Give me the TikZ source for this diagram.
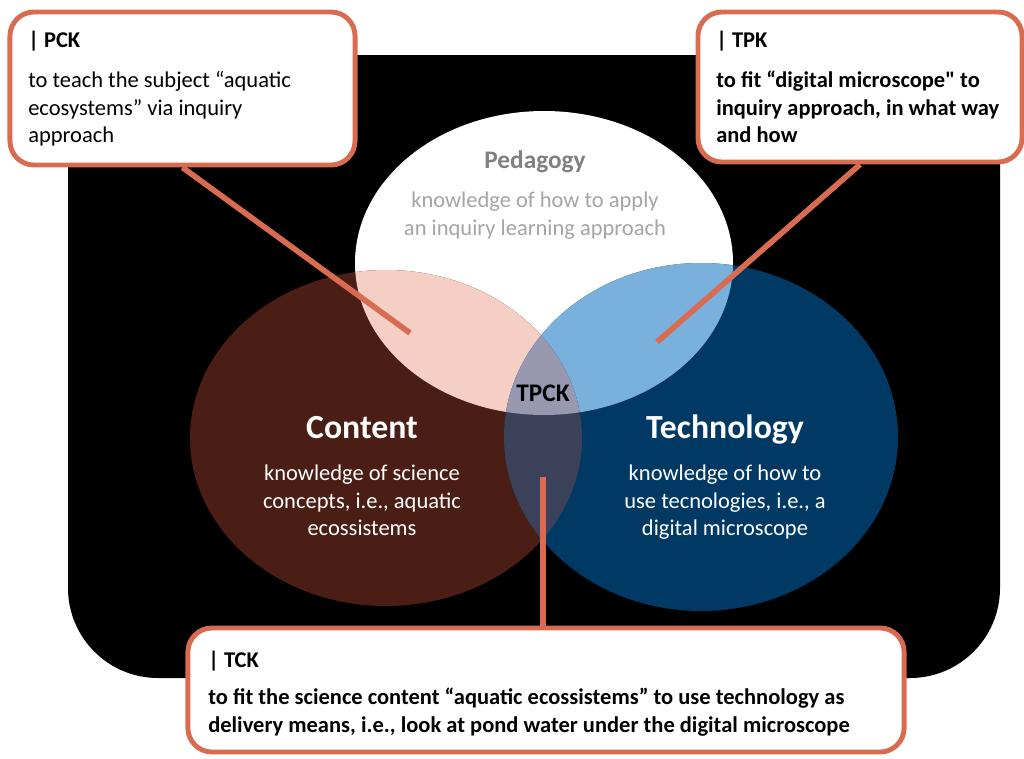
\documentclass[tikz,border=0pt]{standalone}
\usepackage{fontspec}
\setmainfont{Carlito}[Ligatures=TeXOff]

\definecolor{calloutorange}{RGB}{217,108,80}
\definecolor{contentbrown}{RGB}{74,30,20}
\definecolor{techblue}{RGB}{0,58,100}
\definecolor{pcpink}{RGB}{245,206,196}
\definecolor{ptblue}{RGB}{122,176,220}
\definecolor{ctslate}{RGB}{60,65,90}
\definecolor{tpckgray}{RGB}{152,152,176}
\definecolor{pedgray}{RGB}{128,128,128}
\definecolor{pedlight}{RGB}{165,165,165}

\begin{document}
\begin{tikzpicture}[x=0.025cm, y=-0.025cm,
    every node/.style={font=\fontsize{16}{19.5}\selectfont, inner sep=0pt},
    callbox/.style={draw=calloutorange, line width=3.5pt, fill=white, rounded corners=0.6cm},
    link/.style={draw=calloutorange, line width=4pt},
    boxtext/.style={anchor=north west, align=left},
    circtext/.style={anchor=north, align=center, text=white},
    areatitle/.style={anchor=base, font=\fontsize{24}{28}\selectfont\bfseries, text=white}]
    \useasboundingbox (0,0) rectangle (1024,758);

    % black backdrop
    \fill[black, rounded corners=2.25cm] (68,55) rectangle (1000,678);
    \fill[black] (68,55) rectangle (1000,300);

    % the three knowledge areas
    \fill[white] (544,263) ellipse [x radius=189, y radius=152];
    \fill[contentbrown] (386,438) ellipse [x radius=196, y radius=168];
    \fill[techblue] (701,437) ellipse [x radius=197, y radius=174];

    % overlaps
    \begin{scope}
      \clip (544,263) ellipse [x radius=189, y radius=152];
      \fill[pcpink] (386,438) ellipse [x radius=196, y radius=168];
      \fill[ptblue] (701,437) ellipse [x radius=197, y radius=174];
    \end{scope}
    \begin{scope}
      \clip (386,438) ellipse [x radius=196, y radius=168];
      \fill[ctslate] (701,437) ellipse [x radius=197, y radius=174];
      \clip (544,263) ellipse [x radius=189, y radius=152];
      \fill[tpckgray] (701,437) ellipse [x radius=197, y radius=174];
    \end{scope}

    % area labels
    \node[anchor=base, text=pedgray, font=\fontsize{18}{22}\selectfont\bfseries] (ped-title) at (535,168) {Pedagogy};
    \node[anchor=north, align=center, text=pedlight] (ped-text) at (535,192) {knowledge of how to apply\\an inquiry learning approach};
    \node[areatitle] (con-title) at (362,438) {Content};
    \node[circtext] (con-text) at (362,465) {knowledge of science\\concepts, i.e., aquatic\\ecossistems};
    \node[areatitle] (tec-title) at (725,438) {Technology};
    \node[circtext] (tec-text) at (725,465) {knowledge of how to\\use tecnologies, i.e., a\\digital microscope};
    \node[anchor=base, font=\fontsize{18}{22}\selectfont\bfseries] (tpck) at (543,401) {TPCK};

    % callout tips
    \coordinate (pck-tip) at (410,333);
    \coordinate (tpk-tip) at (657,342);
    \coordinate (tck-tip) at (543,477);

    % callout boxes
    \node[callbox, minimum width=8.625cm, minimum height=3.825cm] (pck) at (182.5,88.5) {};
    \node[boxtext] (pck-text) at (28,31) {\textbf{| PCK}\\[9pt]to teach the subject “aquatic\\ecosystems” via inquiry\\approach};
    \node[callbox, minimum width=8.1cm, minimum height=3.75cm] (tpk) at (860,87) {};
    \node[boxtext, font=\fontsize{16}{19.5}\selectfont\bfseries] (tpk-text) at (716,31) {| TPK\\[9pt]to fit “digital microscope" to\\inquiry approach, in what way\\and how};
    \node[callbox, minimum width=17.9cm, minimum height=3.1cm] (tck) at (546,690) {};
    \node[boxtext, font=\fontsize{16}{19.5}\selectfont\bfseries] (tck-text) at (208,651) {| TCK\\[7pt]to fit the science content “aquatic ecossistems” to use technology as\\delivery means, i.e., look at pond water under the digital microscope};

    % connectors
    \draw[link] (pck.south) -- (pck-tip);
    \draw[link] (tpk.south) -- (tpk-tip);
    \draw[link] (tck.north -| tck-tip) -- (tck-tip);
\end{tikzpicture}
\end{document}
